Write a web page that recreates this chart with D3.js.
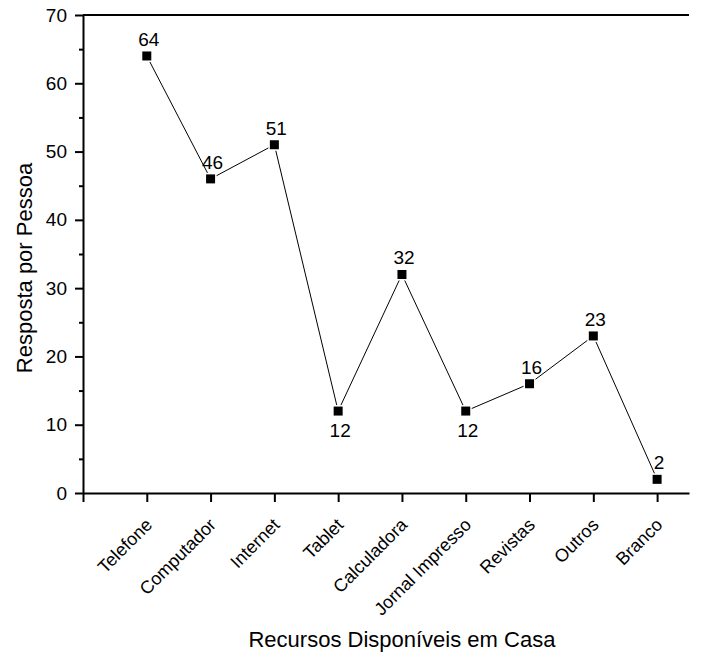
<!DOCTYPE html>
<html>
<head>
<meta charset="utf-8">
<script src="https://cdn.jsdelivr.net/npm/d3@7"></script>
<style>
	body { margin: 0; background: #fff; }
	svg { display: block; font-family: Arial, 'Liberation Sans', sans-serif; }
</style>
</head>
<body>
<svg></svg>
<script>
const categories = ['Telefone', 'Computador', 'Internet', 'Tablet', 'Calculadora', 'Jornal Impresso', 'Revistas', 'Outros', 'Branco'];
const respostas = [64, 46, 51, 12, 32, 12, 16, 23, 2];
const labelsBelow = ['Tablet', 'Jornal Impresso'];
const yTicks = [0, 10, 20, 30, 40, 50, 60, 70];
const yMinorTicks = [5, 15, 25, 35, 45, 55, 65];

const width = 711;
const height = 657;
const plotLeft = 83, plotRight = 689, plotTop = 15, plotBottom = 493;

const svg = d3.select('svg')
	.attr('width', width)
	.attr('height', height);

// categories sit at 1..9, axis runs from 0 to 9.5
const x = d3.scaleLinear()
	.domain([0, categories.length + 0.5])
	.range([plotLeft, plotRight]);

const y = d3.scaleLinear()
	.domain([0, 70])
	.range([plotBottom, plotTop]);

// top frame line
svg.append('line')
	.attr('x1', plotLeft).attr('x2', plotRight)
	.attr('y1', plotTop).attr('y2', plotTop)
	.attr('stroke', '#000')
	.attr('stroke-width', 2);

// y axis
const yAxis = svg.append('g')
	.attr('transform', `translate(${plotLeft},0)`)
	.call(d3.axisLeft(y).tickValues(yTicks).tickSize(8).tickPadding(8).tickSizeOuter(0));

svg.append('g')
	.attr('transform', `translate(${plotLeft},0)`)
	.call(d3.axisLeft(y).tickValues(yMinorTicks).tickSize(4).tickFormat('').tickSizeOuter(0))
	.call(g => g.select('.domain').remove());

// x axis
const xAxis = svg.append('g')
	.attr('transform', `translate(0,${plotBottom})`)
	.call(d3.axisBottom(x)
		.tickValues(d3.range(0, categories.length + 1))
		.tickFormat(d => d === 0 ? '' : categories[d - 1])
		.tickSize(9)
		.tickSizeOuter(0));

svg.selectAll('.domain, .tick line')
	.attr('stroke', '#000')
	.attr('stroke-width', 2);

svg.selectAll('.tick text')
	.attr('fill', '#000')
	.style('font-size', '19px');

xAxis.selectAll('text')
	.attr('text-anchor', 'end')
	.attr('dy', null)
	.attr('y', 0)
	.attr('transform', 'translate(6,33) rotate(-45)')
	.style('font-size', '18px');

// data line
const line = d3.line()
	.x((d, i) => x(i + 1))
	.y(d => y(d));

svg.append('path')
	.datum(respostas)
	.attr('fill', 'none')
	.attr('stroke', '#000')
	.attr('stroke-width', 1)
	.attr('d', line);

svg.selectAll('rect.marker')
	.data(respostas)
	.enter()
	.append('rect')
	.attr('class', 'marker')
	.attr('x', (d, i) => x(i + 1) - 4.5)
	.attr('y', d => y(d) - 4.5)
	.attr('width', 9)
	.attr('height', 9)
	.attr('fill', '#000')
	.attr('stroke', '#fff')
	.attr('stroke-width', 3)
	.style('paint-order', 'stroke');

svg.selectAll('text.valor')
	.data(respostas)
	.enter()
	.append('text')
	.attr('class', 'valor')
	.attr('x', (d, i) => x(i + 1) + 2)
	.attr('y', (d, i) => labelsBelow.includes(categories[i]) ? y(d) + 26 : y(d) - 10)
	.attr('text-anchor', 'middle')
	.style('font-size', '19px')
	.text(d => d);

// axis titles
svg.append('text')
	.attr('x', x(5))
	.attr('y', 647)
	.attr('text-anchor', 'middle')
	.style('font-size', '22px')
	.text('Recursos Disponíveis em Casa');

svg.append('text')
	.attr('transform', `translate(32,268) rotate(-90)`)
	.attr('text-anchor', 'middle')
	.style('font-size', '22px')
	.text('Resposta por Pessoa');
</script>
</body>
</html>
